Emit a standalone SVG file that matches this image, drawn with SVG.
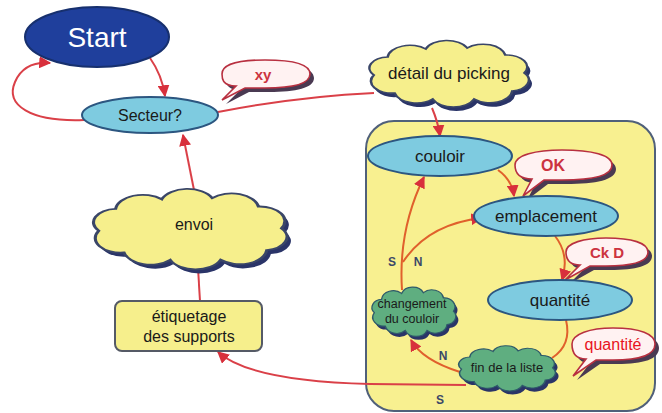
<svg xmlns="http://www.w3.org/2000/svg" width="662" height="413" viewBox="0 0 662 413">
  <defs>
    <style>
      .lbl { font-family: "Liberation Sans", Arial, sans-serif; fill: #1a1a1a; text-anchor: middle; }
      .ell { fill: #7ecbe0; stroke: #2c5680; stroke-width: 2; }
      .cloudY { fill: #f6ef8c; stroke: #3a4668; stroke-width: 1.5; }
      .cloudG { fill: #5fae80; stroke: #2f5a6a; stroke-width: 1.5; }
      .shadow { fill: #2a3468; }
      .bub { fill: #fff2f2; stroke: #b83040; stroke-width: 1.6; }
      .bubsh { fill: #4a3a52; }
      .btxt { font-family: "Liberation Sans", Arial, sans-serif; font-weight: bold; fill: #cc3340; text-anchor: middle; }
      .link { fill: none; stroke: #da4048; stroke-width: 2; }
      .inner { fill: none; stroke: #e0602c; stroke-width: 2; }
      .sn { font-family: "Liberation Sans", Arial, sans-serif; font-weight: bold; font-size: 12px; fill: #3a4868; text-anchor: middle; }
    </style>
    <marker id="arr" viewBox="0 0 10 10" refX="9" refY="5" markerWidth="6" markerHeight="6" orient="auto">
      <path d="M0,0 L10,5 L0,10 z" fill="#d8303c"/>
    </marker>
    <!-- unit cloud outline, scaled per node -->
    <path id="cloud" d="M8,32 a11,11 0 0,1 8,-18 a13,13 0 0,1 22,-8 a13,13 0 0,1 24,-1 a13,13 0 0,1 22,7 a12,12 0 0,1 11,18 a11,11 0 0,1 -7,18 a13,13 0 0,1 -22,8 a13,13 0 0,1 -24,0 a13,13 0 0,1 -22,-6 a12,12 0 0,1 -12,-18 z"/>
  </defs>

  <rect width="662" height="413" fill="#ffffff"/>

  <!-- picking region -->
  <g id="picking-zone">
    <rect x="366" y="121" width="289" height="290" rx="28" fill="#f8f090" stroke="#50607a" stroke-width="2"/>
  </g>

  <!-- connectors -->
  <g id="connectors">
    <path class="link" d="M150,58 Q162,75 165,96" marker-end="url(#arr)"/>
    <path class="link" d="M84,120 C30,122 5,105 15,82 C22,66 36,62 50,63" marker-end="url(#arr)"/>
    <path class="link" d="M218,112 C280,100 330,95 374,93"/>
    <path class="link" d="M432,108 Q438,122 440,136" marker-end="url(#arr)"/>
    <path class="inner" d="M498,170 Q512,180 514,196" marker-end="url(#arr)"/>
    <path class="inner" d="M555,236 Q570,255 562,280" marker-end="url(#arr)"/>
    <path class="inner" d="M566,320 Q572,345 552,358"/>
    <path class="inner" d="M460,372 Q422,360 411,340" marker-end="url(#arr)"/>
    <path class="inner" d="M402,290 Q398,230 424,177" marker-end="url(#arr)"/>
    <path class="inner" d="M403,262 Q428,224 482,218" marker-end="url(#arr)"/>
    <path class="link" d="M466,385 L370,384 C290,382 240,372 218,352" marker-end="url(#arr)"/>
    <path class="link" d="M200,301 L198,268"/>
    <path class="link" d="M194,190 L183,135" marker-end="url(#arr)"/>
    <text class="sn" x="392" y="266">S</text>
    <text class="sn" x="418" y="266">N</text>
    <text class="sn" x="443" y="360">N</text>
    <text class="sn" x="440" y="404">S</text>
  </g>

  <g id="start">
    <ellipse cx="97" cy="37" rx="72" ry="30" fill="#1f3f9c" stroke="#17306e" stroke-width="2"/>
    <text x="97" y="47" font-family="Liberation Sans, Arial, sans-serif" font-size="28" fill="#ffffff" text-anchor="middle">Start</text>
  </g>

  <g id="secteur">
    <ellipse class="ell" cx="150" cy="115" rx="68" ry="18"/>
    <text class="lbl" x="150" y="121" font-size="16">Secteur?</text>
  </g>

  <g id="bubble-xy">
    <path class="bubsh" d="M240,90 C226,90 226,82 226,78 C226,68 244,64 269,64 C296,64 314,68 314,78 C314,88 296,92 269,92 L249,92 L226,104 Z"/>
    <path class="bub" d="M236,86 C222,86 222,78 222,74 C222,64 240,60 265,60 C292,60 310,64 310,74 C310,84 292,88 265,88 L245,88 L222,100 Z"/>
    <text class="btxt" x="263" y="80" font-size="15">xy</text>
  </g>

  <g id="detail-picking">
    <use href="#cloud" class="shadow" transform="translate(363,47) scale(1.73,1.0)"/>
    <use href="#cloud" class="cloudY" vector-effect="non-scaling-stroke" transform="translate(360,43) scale(1.73,1.0)"/>
    <text class="lbl" x="449" y="79" font-size="17">détail du picking</text>
  </g>

  <g id="couloir">
    <ellipse class="ell" cx="440" cy="156" rx="72" ry="20"/>
    <text class="lbl" x="440" y="162" font-size="17">couloir</text>
  </g>

  <g id="bubble-ok">
    <path class="bubsh" d="M536,183 C522,183 519,176 519,169 C519,159 540,154 566,154 C596,154 616,159 616,169 C616,180 596,184 566,184 L548,184 L527,200 Z"/>
    <path class="bub" d="M532,179 C518,179 515,172 515,165 C515,155 536,150 562,150 C592,150 612,155 612,165 C612,176 592,180 562,180 L544,180 L523,196 Z"/>
    <text class="btxt" x="553" y="171" font-size="16">OK</text>
  </g>

  <g id="emplacement">
    <ellipse class="ell" cx="546" cy="216" rx="72" ry="20"/>
    <text class="lbl" x="546" y="222" font-size="17">emplacement</text>
  </g>

  <g id="bubble-ckd">
    <path class="bubsh" d="M584,269 C572,269 570,262 570,256 C570,247 588,242 610,242 C636,242 652,247 652,256 C652,266 636,270 610,270 L594,270 L569,284 Z"/>
    <path class="bub" d="M580,265 C568,265 566,258 566,252 C566,243 584,238 606,238 C632,238 648,243 648,252 C648,262 632,266 606,266 L590,266 L565,280 Z"/>
    <text class="btxt" x="607" y="258" font-size="15">Ck D</text>
  </g>

  <g id="quantite">
    <ellipse class="ell" cx="560" cy="300" rx="72" ry="20"/>
    <text class="lbl" x="560" y="306" font-size="17">quantité</text>
  </g>

  <g id="bubble-quantite">
    <path class="bubsh" d="M590,363 C578,363 576,355 576,348 C576,338 594,332 617,332 C644,332 659,338 659,348 C659,359 644,364 617,364 L600,364 L577,380 Z"/>
    <path class="bub" d="M586,359 C574,359 572,351 572,344 C572,334 590,328 613,328 C640,328 655,334 655,344 C655,355 640,360 613,360 L596,360 L573,376 Z"/>
    <text x="613" y="350" font-family="Liberation Sans, Arial, sans-serif" font-size="16" fill="#e8141e" text-anchor="middle">quantité</text>
  </g>

  <g id="changement-couloir">
    <use href="#cloud" class="shadow" transform="translate(369.5,292.5) scale(0.91,0.74)"/>
    <use href="#cloud" class="cloudG" vector-effect="non-scaling-stroke" transform="translate(367,289) scale(0.91,0.74)"/>
    <text class="lbl" x="412" y="308" font-size="12.5">changement</text>
    <text class="lbl" x="412" y="323" font-size="12.5">du couloir</text>
  </g>

  <g id="fin-liste">
    <use href="#cloud" class="shadow" transform="translate(456,351) scale(1.05,0.68)"/>
    <use href="#cloud" class="cloudG" vector-effect="non-scaling-stroke" transform="translate(453,347.4) scale(1.05,0.68)"/>
    <text class="lbl" x="507" y="372" font-size="13">fin de la liste</text>
  </g>

  <g id="envoi">
    <use href="#cloud" class="shadow" transform="translate(86,196) scale(2.1,1.21)"/>
    <use href="#cloud" class="cloudY" vector-effect="non-scaling-stroke" transform="translate(82,192) scale(2.1,1.21)"/>
    <text class="lbl" x="194" y="230" font-size="16">envoi</text>
  </g>

  <g id="etiquetage">
    <rect x="115" y="301" width="147" height="50" rx="7" fill="#f6ef8c" stroke="#555a66" stroke-width="2"/>
    <text class="lbl" x="189" y="322" font-size="16">étiquetage</text>
    <text class="lbl" x="189" y="342" font-size="16">des supports</text>
  </g>
</svg>
